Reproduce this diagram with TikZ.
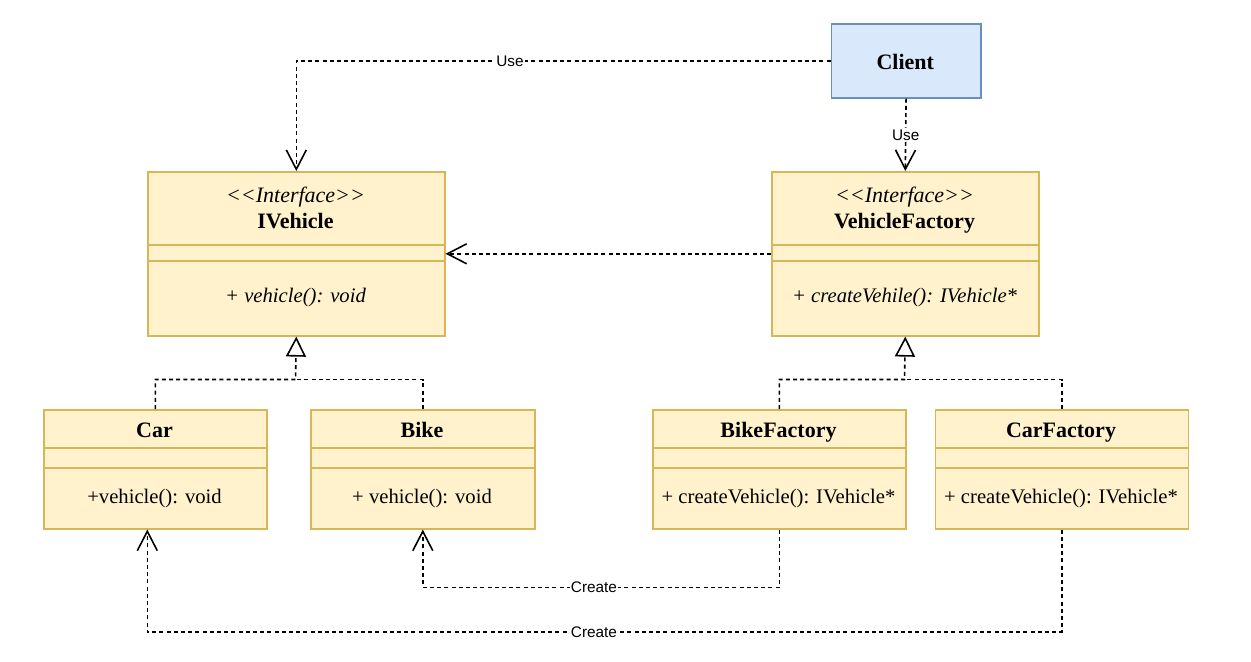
\documentclass[tikz,border=0pt]{standalone}
\usepackage{fontspec}
\setmainfont{Liberation Serif}
\newfontfamily\serf{Liberation Serif}
\newfontfamily\sansf{Liberation Sans}
\usetikzlibrary{arrows.meta,calc}
\definecolor{ylf}{HTML}{FFF2CC}
\definecolor{ylb}{HTML}{D6B656}
\definecolor{blf}{HTML}{DAE8FC}
\definecolor{blb}{HTML}{6C8EBF}
\tikzset{
  cls/.style={draw=ylb, fill=ylf, line width=1.2pt, inner sep=0pt, anchor=north west},
  clientbox/.style={draw=blb, fill=blf, line width=1.2pt, inner sep=0pt, anchor=north west},
  sepline/.style={draw=ylb, line width=1.2pt},
  nm/.style={anchor=base, inner sep=0pt, font=\serf\bfseries\fontsize{16.5}{19}\selectfont},
  st/.style={anchor=base, inner sep=0pt, font=\serf\itshape\fontsize{16.5}{19}\selectfont},
  mt/.style={anchor=base, inner sep=0pt, font=\serf\fontsize{15.5}{18}\selectfont},
  mti/.style={anchor=base, inner sep=0pt, font=\serf\itshape\fontsize{15.5}{18}\selectfont},
  dashline/.style={draw=black, line width=1.2pt, dash pattern=on 3pt off 2.4pt},
  dep/.style={dashline, -{Straight Barb[length=14.5pt, width=15pt]}},
  realize/.style={dashline, -{Triangle[open, fill=white, length=15pt, width=15pt]}},
  lbl/.style={fill=white, inner sep=1pt, text=black, font=\sansf\fontsize{11.5}{13}\selectfont}
}
\begin{document}
\begin{tikzpicture}[x=0.75pt, y=-0.75pt]
\useasboundingbox (0,0) rectangle (1251,661);

% class boxes
\node[clientbox, minimum width={149.5*0.75pt}, minimum height={74*0.75pt}] (client) at (830.5,23) {};
\node[cls, minimum width={297*0.75pt}, minimum height={164*0.75pt}] (ivehicle) at (147,171) {};
\node[cls, minimum width={267*0.75pt}, minimum height={164*0.75pt}] (vfactory) at (771,171) {};
\node[cls, minimum width={223*0.75pt}, minimum height={119*0.75pt}] (car) at (43,409) {};
\node[cls, minimum width={224*0.75pt}, minimum height={119*0.75pt}] (bike) at (310,409) {};
\node[cls, minimum width={253*0.75pt}, minimum height={119*0.75pt}] (bikef) at (652,409) {};
\node[cls, minimum width={253*0.75pt}, minimum height={119*0.75pt}] (carf) at (934.5,409) {};

% compartment separators
\draw[sepline] (147,245) -- (444,245);
\draw[sepline] (147,261) -- (444,261);
\draw[sepline] (771,245) -- (1038,245);
\draw[sepline] (771,261) -- (1038,261);
\foreach \a/\b in {43/266, 310/534, 652/905, 934.5/1187.5}{
  \draw[sepline] (\a,448) -- (\b,448);
  \draw[sepline] (\a,468) -- (\b,468);
}

% texts
\node[nm] (tclient) at (905.25,69) {Client};
\node[st] (sti) at (295.5,202) {<\kern0pt<Interface>\kern0pt>};
\node[nm] (tiv) at (295.5,228.5) {IVehicle};
\node[mti] (miv) at (295.5,302.5) {+ vehicle(): void};
\node[st] (stv) at (904.5,202) {<\kern0pt<Interface>\kern0pt>};
\node[nm] (tvf) at (904.5,228.5) {VehicleFactory};
\node[mti] (mvf) at (904.5,302.5) {+ createVehile(): IVehicle*};
\node[nm] (tcar) at (154.5,437) {Car};
\node[mt] (mcar) at (154.5,503) {+vehicle(): void};
\node[nm] (tbike) at (422,437) {Bike};
\node[mt] (mbike) at (422,503) {+ vehicle(): void};
\node[nm] (tbf) at (778.5,437) {BikeFactory};
\node[mt] (mbf) at (778.5,503) {+ createVehicle(): IVehicle*};
\node[nm] (tcf) at (1061,437) {CarFactory};
\node[mt] (mcf) at (1061,503) {+ createVehicle(): IVehicle*};

% connectors
\draw[dep] (client.west) -| (ivehicle.north) node[lbl, pos=0.3] (use1) {Use};
\draw[dep] (client.south) -- (vfactory.north) node[lbl, midway] (use2) {Use};
\draw[dep] (vfactory.west) -- (ivehicle.east);

\coordinate (gl) at (295.5,379.5);
\coordinate (gr) at (904.5,379.5);
\draw[realize] (car.north) |- (gl) -- (ivehicle.south);
\draw[dashline] (bike.north) |- (gl);
\draw[realize] (bikef.north) |- (gr) -- (vfactory.south);
\draw[dashline] (carf.north) |- (gr);

\coordinate (cb) at (594,587.5);
\coordinate (cc) at (594,632);
\draw[dep] (bikef.south) |- (cb) node[lbl] (create1) {Create} -| (bike.south);
\draw[dep] (carf.south) |- (cc) node[lbl] (create2) {Create} -| ($(car.south)+(-8,0)$);
\end{tikzpicture}
\end{document}
